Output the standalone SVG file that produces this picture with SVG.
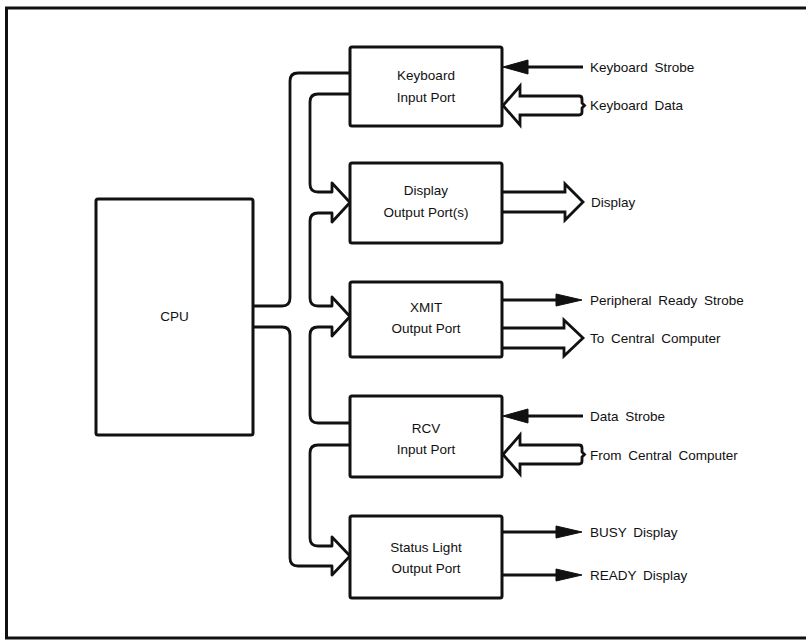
<svg xmlns="http://www.w3.org/2000/svg" width="806" height="640" viewBox="0 0 806 640">
<style>
.box{fill:#fff;stroke:#111;stroke-width:3;}
.bus{fill:none;stroke:#111;stroke-width:2.8;stroke-linejoin:round;}
.fat{fill:#fff;stroke:#111;stroke-width:2.8;stroke-linejoin:miter;}
.ln{fill:none;stroke:#111;stroke-width:2.8;}
.head{fill:#111;stroke:#111;stroke-width:1;}
text{font-family:"Liberation Sans",Arial,sans-serif;font-size:13.5px;fill:#111;}
.c{text-anchor:middle;}
.r{word-spacing:3px;}
</style>
<rect x="0" y="0" width="806" height="640" fill="#fff"/>
<path d="M812,8 H6.5 V638 H812" fill="none" stroke="#111" stroke-width="3"/>

<g id="connectors">
<path class="bus" d="M350,73 H298 Q290,73 290,81 V298 Q290,306 282,306 H253"/>
<path class="bus" d="M350,94 H318 Q310,94 310,102 V184 Q310,192 318,192 H332 V183 L350,202.5 L332,222 V213 H318 Q310,213 310,221 V298 Q310,306 318,306 H332 V297 L350,316.5 L332,336 V327 H318 Q310,327 310,335 V415 Q310,423 318,423 H350"/>
<path class="bus" d="M350,445 H318 Q310,445 310,453 V538 Q310,546 318,546 H332 V537 L350,556 L332,575 V566 H298 Q290,566 290,558 V335 Q290,327 282,327 H253"/>

<line class="ln" x1="583" y1="67" x2="526" y2="67"/>
<polygon class="head" points="503,67 528,60 528,74"/>
<path class="fat" d="M520,96 H579 Q582,96 582,99 V103 L584.5,105.5 L582,108 V112 Q582,115 579,115 H520 V125 L503,105.5 L520,86 Z"/>

<path class="fat" d="M502,192 H565 V184 L583,202 L565,220 V212 H502"/>

<line class="ln" x1="502" y1="300" x2="558" y2="300"/>
<polygon class="head" points="582,300 556,294 556,306"/>
<path class="fat" d="M502,328 H564 V320 L583,338 L564,356 V348 H502"/>

<line class="ln" x1="583" y1="416" x2="526" y2="416"/>
<polygon class="head" points="503,416 528,409 528,423"/>
<path class="fat" d="M520,445 H579 Q582,445 582,448 V452 L584.5,454.5 L582,457 V461 Q582,464 579,464 H520 V474 L503,454.5 L520,435 Z"/>

<line class="ln" x1="502" y1="532" x2="558" y2="532"/>
<polygon class="head" points="582,532 556,526 556,538"/>
<line class="ln" x1="502" y1="575" x2="558" y2="575"/>
<polygon class="head" points="582,575 556,569 556,581"/>
</g>

<g id="cpu">
<rect class="box" x="96" y="199" width="157" height="236" rx="2"/>
<text class="c" x="174.5" y="321">CPU</text>
</g>
<g id="keyboard">
<rect class="box" x="350" y="47" width="152" height="79" rx="2"/>
<text class="c" x="426" y="80">Keyboard</text>
<text class="c" x="426" y="102">Input Port</text>
</g>
<g id="display">
<rect class="box" x="350" y="163" width="152" height="80" rx="2"/>
<text class="c" x="426" y="195">Display</text>
<text class="c" x="426" y="217">Output Port(s)</text>
</g>
<g id="xmit">
<rect class="box" x="350" y="282" width="152" height="75" rx="2"/>
<text class="c" x="426" y="312">XMIT</text>
<text class="c" x="426" y="333">Output Port</text>
</g>
<g id="rcv">
<rect class="box" x="350" y="396" width="152" height="81" rx="2"/>
<text class="c" x="426" y="433">RCV</text>
<text class="c" x="426" y="454">Input Port</text>
</g>
<g id="status">
<rect class="box" x="350" y="516" width="152" height="82" rx="2"/>
<text class="c" x="426" y="552">Status Light</text>
<text class="c" x="426" y="573">Output Port</text>
</g>

<g id="labels">
<text class="r" x="590" y="72">Keyboard Strobe</text>
<text class="r" x="590" y="110">Keyboard Data</text>
<text class="r" x="591" y="207">Display</text>
<text class="r" x="590" y="305">Peripheral Ready Strobe</text>
<text class="r" x="590" y="343">To Central Computer</text>
<text class="r" x="590" y="421">Data Strobe</text>
<text class="r" x="590" y="460">From Central Computer</text>
<text class="r" x="590" y="537">BUSY Display</text>
<text class="r" x="590" y="580">READY Display</text>
</g>
</svg>
